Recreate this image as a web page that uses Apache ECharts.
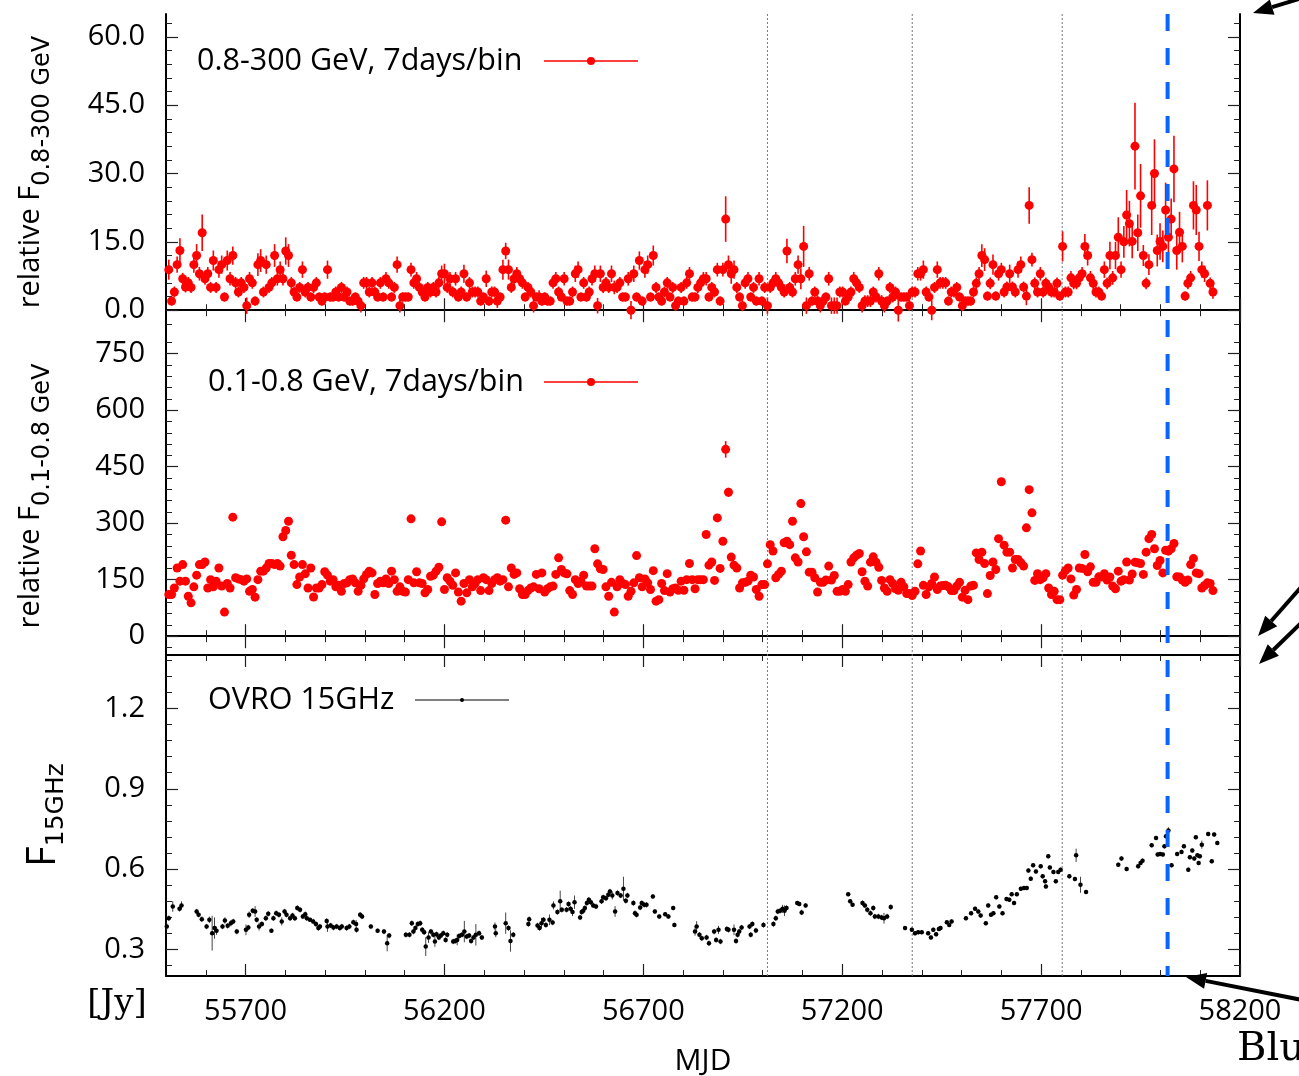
<!DOCTYPE html>
<html>
<head>
<meta charset="utf-8">
<title>Light curves</title>
<script src="https://cdn.jsdelivr.net/npm/echarts@6/dist/echarts.min.js"></script>
<style>
  html, body { margin: 0; padding: 0; background: #fff; }
  #chart { width: 1299px; height: 1076px; }
</style>
</head>
<body>
<div id="chart"></div>
<script>
// ---- weekly gamma-ray binning ----
const BIN_START = 55507;   // centre of first 7-day bin, MJD
const BIN_DAYS = 7;

// 0.8-300 GeV relative flux per weekly bin: [value, 1-sigma]
const hardBand = [
  [8.9,2.2],[2,1],[4,1.2],[10,1.8],[13.1,2.7],[6.9,1.3],[5.1,1.2],[6,1.3],[5,1.2],[10,1.8],
  [12,2.5],[8,1.5],[17,4],[6.9,1.3],[8,1.5],[5,1.2],[10.9,2.2],[5,1.2],[8.9,1.8],[10,2],
  [2.9,1],[10.9,2.2],[6.9,1.5],[12,2],[6,1.3],[4,1.2],[6,1.3],[5,1.2],[1,1.8],[6.9,1.5],
  [6,1.3],[2,1],[10,2.5],[10.9,2.5],[4,1.2],[10,2],[5,1.2],[6,1.3],[12,2.5],[6.9,1.5],
  [8.9,1.8],[6.9,1.5],[13,3],[12,2.5],[6,1.3],[4,1.2],[2.9,1],[5,1.2],[8.9,1.8],[4,1.2],
  [5,1.2],[2.9,1],[5,1.2],[6,1.3],[2.9,1],[2,1],[2.9,1],[8.9,2],[2.9,1],[2.9,1],
  [4,1.2],[2.9,1],[5,1.2],[2.9,1],[4,1.2],[2,1],[2,1],[2.9,1],[2,1],[1,1.5],
  [6,1.3],[6,1.3],[4,1.2],[6,1.3],[4,1.2],[2.9,1],[6,1.3],[2.9,1],[6.9,1.5],[6,1.3],
  [2.9,1],[5,1.2],[10,1.8],[1,1.5],[2.9,1],[2.9,1],[2.9,1],[8.9,1.5],[6,1.3],[6.9,1.5],
  [5,1.2],[4,1.2],[2.9,1],[5,1.2],[4,1.2],[5,1.2],[4,1.2],[6,1.3],
  [8,1.8],[8,2.2],[5,1.2],[6.9,1.5],[4,1.2],[6.9,1.5],[2.9,1],[4,1.2],[8,2],[2.9,1],
  [6,1.3],[4,1.2],[4,1.2],[4,1.2],[2,1],[2.9,1],[6.9,1.8],[2,1],[4,1.2],[4,1.2],
  [2,1.5],[2.9,1],[8.9,2.2],[13,1.8],[8.9,2.2],[5,1.2],[6.9,1.5],[8,1.5],[6.9,1.5],[6,1.3],
  [2.9,1],[5,1.2],[4,1.2],[1,1.5],[2.9,1],[2.9,1.5],[2,1],[2.9,1],[2,1],[2,1],
  [6,1.3],[6.9,1.5],[4,1.2],[2.9,1],[6.9,1.5],[2,1],[2,1],[4,1.2],[8,1.8],[8.9,1.8],
  [2.9,1],[6,1.3],[2.9,1],[4,1.2],[6.9,1.5],[8,1.8],[1,1.7],[8,1.8],[5,1.2],[6,1.3],
  [5,1.2],[8,1.8],[5,1.5],[5,1.2],[6,1.3],[2.9,1],[2.9,1],[6.9,1.5],[0,2],[8,1.8],
  [2.9,1],[10.9,2],[2,1],[8.9,1.8],[10,2],[2.9,1],[12,2.2],[5,1.2],[2.9,1],[2,1],
  [4,1.2],[6,1.3],[2.9,1],[5,1.2],[1,1.2],[2,1],[5,1.2],[2,1],[6,1.3],[8,1.5],
  [2.9,1],[2.9,1],[5,1.2],[6,1.3],[6.9,1.5],
  [6.9,1.5],[2.9,1],[5,1.2],[4,1.2],[8.9,1.5],[2,1],[8.9,1.5],[20,5],[10,2],[8,2.2],
  [8.9,2],[5,1.2],[2.9,1],[1,1.2],[6,1.3],[6.9,1.5],[2.9,1],[5,1.2],[2,1],[6.9,1.5],
  [2,1],[5,1.2],[1,1.8],[5,1.2],[6,1.3],[6.9,1.5],[6,1.3],[5,1.2],[4,1.2],[13,2.7],
  [5,1.2],[4,1.2],[6.9,1.5],[10,2],[6.9,2.3],[14,4.5],[1,1.8],[8,1.5],[2,1],[4,1.2],
  [2,1.2],[1,1.5],[2,1],[2.9,1],[6.9,1.5],[1,1.8],[1,1.8],[1,1.8],[4,1.2],[4,1.2],
  [2,1],[2.9,1],[4,1.2],[6.9,1.5],[6,1.3],[5,1.2],[1,1.5],[2,1.3],[2,1.3],[2,1.3],
  [4,1.2],[2.9,1.2],[8,1.5],[2,1.3],[1,1.5],[2,1],[5,1.2],[2.9,1.2],[4,1.2],[0,2.5],
  [2.9,1],[2.9,1],[2.9,1],[1,1.2],[4,1.2],[4,1.2],[8,1.5],[8,1.5],[8.9,2],[4,1.2],
  [2.9,1],[0,2.2],[5,1.2],[8.9,1.8],[6,1.3],[6,1.3],[6,1.3],[2,1],[4,1.2],[4,1.2],
  [5,1.2],[2.9,1],[1,1.2],[2,1],[2,1],[2,1],[4,1.2],
  [5.9,1.3],[8,1.5],[12,2.5],[11.1,2.5],[3.1,1],[5.9,1.3],[10,2.2],[3.1,1],[8,1.5],[8.9,1.5],
  [4,1.2],[5.1,1.2],[8,2],[5.1,1.2],[4,1.2],[8.9,1.8],[10,1.8],[5.1,1.2],[3.1,2],[23,4],
  [11.1,1.5],[5.9,1.3],[4,1.2],[8,1.5],[4,1.2],[5.9,1.3],[5.1,1.2],[4,1.2],[4,1.2],[5.9,1.3],
  [3.1,1],[14,3.3],[4,1.2],[4,1.2],[7.1,1.5],[5.9,1.3],[5.9,1.3],[7.1,1.5],[8,1.5],[14,2.7],
  [12,2.2],[7.1,1.5],[5.9,1.3],[4,1.2],[4,1.2],[3.1,1],[8.9,1.8],[5.9,1.3],[12,3],[7.1,1.5],
  [12,3],[16,4.4],[8.9,1.8],[15,3.5],[20.9,5.5],[19,5],[15.1,3.7],[36,9.5],[17,4],[25.1,7],
  [12,2.3],[5.9,1.3],[10,2.3],[23,6.5],[30,7.5],[13.1,3.5],[15.1,4],[14,3.5],[22,6],[16,4],
  [20,4.5],[31,7.3],[13.1,4.2],[17.1,4.5],[14,3.5],[3.1,1],[5.9,1.3],[7.1,1.5],[23,5.3],[22,5.5],
  [14,3.2],[8.9,1.8],[8,1.8],[23,5.5],[5.9,1.3],[4,1.5]
];

// 0.1-0.8 GeV relative flux per weekly bin
const softBand = [
  110.6,110.6,128,181,146,190,146,106,88.5,131,
  162,190,190,197,128,150,131,146,181,133,
  64,140,128,316,155,152,150,146,152,119,
  124,103.5,150,172.6,172.6,181,193,193,190,193,
  186,264,280.5,305,215,190,137,157,190,165.5,
  128,181,104,128,128,137,171,162,146,150,
  131,135,119,140,141.6,150,152,141.6,119,135,
  152,164,172.6,168,110.6,140,146,141.6,152,140,
  172.6,150,119,131,119,117,150,311.5,141.6,171,
  141.6,140,115,124,159,162,172.6,183,
  303.6,124,155,146,135,168,117,93,140,115,
  150,131,140,150,121,155,150,121,140,150,
  155,146,150,308,131,181,164,168,126,110.6,
  110.6,121,128,131,164,126,168,117,126,131,
  133,164,208,177,168,165.5,121,110.6,150,140,
  146,162,133,133,133,232,192,179,177,131,
  106,143,64,131,150,140,137,106,119,141.6,
  214,155,131,152,141.6,124,174,93,97,140,
  121,166,117,126,128,122,146,122,150,193,
  150,126,150,150,150,
  270,188.5,197,148,314,180,252,496,382,210,
  188.5,181,128,141.6,143,146,162,157,124,106,
  137,137,192,243,226,155,164,172.6,248,252,
  243,305,208,197,352,264,224,170,170,155,
  117,143,143,149,186,149,161,119,119,124,
  119,137,197,208,215,219.5,171,146,133,196.5,
  210.6,196.5,183,148,128,119,150,140,126,122,
  143,131,113,113,108,119,192,226,135,110.6,
  131,140,157,124,133,134.5,135,131,121,121,
  133,143,103.5,122,97,133,135,
  221,203.5,223,193,113,161,197,177,259,410,
  241.6,223,223,181,203.5,203.5,195,186,287.6,389,
  327.5,148,166,150,155,166,128,110.6,119,97,
  97,162,174,181,152,109,124,181,180,217,
  171,184,143,143,157.5,157,166,149,157,133,
  126,172.6,146,150,197,149,165,196.5,195,193,
  164,223,259,270,232,187.6,201,168,228,225.7,
  232,246,157.5,157,149,143,149,190,206,168,
  166,128,134.5,141.6,140,121
];
// bins whose 0.1-0.8 GeV error bar reaches beyond the marker: [bin index, 1-sigma]
const softBandErr = [[200,22],[201,12],[224,6],[227,12],[228,8]];

// OVRO 15 GHz: [MJD, flux density (Jy), 1-sigma]
const ovro = [
  [55502,0.385,0.012],[55507,0.416,0.01],[55517,0.46,0.02],[55534,0.451,0.01],[55539,0.464,0.015],
  [55577,0.441,0.01],[55582,0.429,0.01],[55590,0.4125,0.01],[55602,0.385,0.01],[55609,0.41,0.012],
  [55616,0.36,0.065],[55622,0.379,0.04],[55627,0.369,0.015],[55642,0.385,0.01],[55648,0.4075,0.012],
  [55655,0.3875,0.01],[55663,0.3975,0.012],[55669,0.404,0.01],[55678,0.366,0.01],[55701,0.3725,0.02],
  [55707,0.381,0.01],[55709,0.429,0.012],[55718,0.444,0.01],[55724,0.441,0.02],[55728,0.41,0.01],
  [55734,0.385,0.015],[55741,0.394,0.01],[55751,0.416,0.01],[55757,0.4325,0.01],[55765,0.369,0.008],
  [55770,0.416,0.01],[55777,0.435,0.01],[55784,0.429,0.01],[55791,0.404,0.015],[55798,0.441,0.01],
  [55803,0.429,0.01],[55812,0.416,0.01],[55818,0.426,0.01],[55824,0.416,0.01],[55830,0.454,0.01],
  [55837,0.4475,0.01],[55844,0.4225,0.01],[55850,0.431,0.01],[55854,0.416,0.01],[55862,0.41,0.008],
  [55870,0.404,0.01],[55877,0.394,0.01],[55883,0.379,0.01],[55887,0.385,0.01],[55904,0.406,0.01],
  [55906,0.385,0.02],[55914,0.389,0.01],[55921,0.381,0.01],[55929,0.385,0.01],[55937,0.379,0.01],
  [55942,0.385,0.01],[55954,0.379,0.01],[55961,0.385,0.01],[55971,0.401,0.01],[55978,0.394,0.015],
  [55979,0.3725,0.01],[55988,0.429,0.01],[55993,0.4225,0.01],[56015,0.385,0.008],[56032,0.369,0.008],
  [56048,0.366,0.01],[56056,0.3225,0.03],[56061,0.351,0.01],[56103,0.354,0.01],[56112,0.354,0.01],
  [56118,0.3975,0.01],[56122,0.366,0.01],[56127,0.379,0.01],[56133,0.394,0.01],[56139,0.3975,0.01],
  [56144,0.3725,0.01],[56149,0.364,0.01],[56153,0.31,0.035],[56160,0.344,0.02],[56166,0.366,0.01],
  [56172,0.354,0.01],[56176,0.329,0.02],[56180,0.356,0.01],[56186,0.344,0.01],[56191,0.351,0.01],
  [56197,0.36,0.01],[56203,0.335,0.01],[56207,0.354,0.01],[56222,0.329,0.01],[56227,0.331,0.01],
  [56232,0.335,0.02],[56237,0.35,0.01],[56244,0.354,0.01],[56250,0.366,0.04],[56256,0.3475,0.01],
  [56262,0.351,0.01],[56267,0.331,0.01],[56273,0.344,0.01],[56279,0.354,0.04],[56287,0.36,0.01],
  [56294,0.344,0.01],[56327,0.385,0.015],[56329,0.36,0.015],[56354,0.3975,0.04],[56361,0.379,0.01],
  [56366,0.331,0.04],[56373,0.354,0.01],
  [56411,0.394,0.01],[56413,0.4125,0.01],[56434,0.389,0.01],[56439,0.379,0.01],[56444,0.3975,0.02],
  [56449,0.41,0.01],[56455,0.391,0.01],[56464,0.41,0.02],[56472,0.4,0.01],[56474,0.464,0.015],
  [56484,0.439,0.01],[56491,0.479,0.04],[56495,0.4475,0.01],[56507,0.4475,0.01],[56512,0.469,0.01],
  [56517,0.451,0.01],[56522,0.439,0.015],[56527,0.476,0.025],[56541,0.419,0.01],[56545,0.439,0.01],
  [56549,0.444,0.01],[56553,0.454,0.01],[56558,0.4725,0.01],[56563,0.485,0.01],[56568,0.476,0.01],
  [56574,0.464,0.01],[56581,0.46,0.01],[56595,0.479,0.01],[56599,0.494,0.01],[56606,0.491,0.01],
  [56612,0.504,0.01],[56616,0.516,0.01],[56622,0.501,0.015],[56629,0.441,0.02],[56635,0.51,0.01],
  [56643,0.501,0.01],[56650,0.526,0.045],[56656,0.481,0.01],[56660,0.501,0.01],[56675,0.4725,0.01],
  [56679,0.435,0.01],[56683,0.429,0.01],[56692,0.456,0.01],[56696,0.4725,0.01],[56702,0.466,0.01],
  [56708,0.466,0.01],[56724,0.4975,0.008],[56729,0.441,0.008],[56740,0.4225,0.008],[56755,0.431,0.008],
  [56763,0.4225,0.008],[56775,0.454,0.008],[56778,0.391,0.008],[56830,0.366,0.015],[56834,0.385,0.02],
  [56841,0.354,0.01],[56847,0.341,0.01],[56859,0.344,0.01],[56865,0.3225,0.01],[56878,0.366,0.01],
  [56883,0.335,0.01],[56889,0.3725,0.015],[56894,0.329,0.01],[56910,0.376,0.01],[56914,0.3725,0.01],
  [56928,0.3725,0.02],[56933,0.331,0.01],[56937,0.354,0.01],[56941,0.366,0.01],[56947,0.381,0.01],
  [56967,0.385,0.01],[56970,0.354,0.01],[56974,0.394,0.01],[56983,0.37,0.01],[57002,0.391,0.01],
  [57027,0.394,0.01],[57033,0.416,0.01],[57038,0.441,0.01],[57044,0.444,0.01],[57050,0.451,0.015],
  [57055,0.444,0.02],[57060,0.454,0.01],[57087,0.4725,0.008],[57092,0.469,0.008],[57098,0.4375,0.01],
  [57108,0.464,0.008],[57215,0.506,0.008],[57220,0.479,0.008],[57226,0.466,0.008],[57251,0.4725,0.01],
  [57257,0.464,0.01],[57263,0.4475,0.01],
  [57271,0.435,0.01],[57278,0.454,0.01],[57282,0.4225,0.01],[57291,0.4225,0.01],[57299,0.419,0.01],
  [57305,0.416,0.02],[57313,0.4225,0.01],[57322,0.4575,0.01],[57358,0.379,0.008],[57375,0.3725,0.008],
  [57383,0.36,0.008],[57391,0.364,0.008],[57400,0.364,0.008],[57416,0.36,0.008],[57423,0.344,0.008],
  [57429,0.3725,0.008],[57436,0.356,0.008],[57443,0.376,0.008],[57447,0.379,0.008],[57463,0.401,0.008],
  [57469,0.391,0.008],[57475,0.404,0.008],[57511,0.416,0.008],[57524,0.435,0.008],[57534,0.451,0.008],
  [57542,0.441,0.008],[57548,0.426,0.008],[57561,0.3975,0.008],[57567,0.464,0.008],[57574,0.429,0.008],
  [57580,0.435,0.008],[57587,0.494,0.008],[57595,0.46,0.008],[57603,0.435,0.008],[57613,0.4875,0.008],
  [57620,0.485,0.008],[57626,0.506,0.008],[57632,0.4725,0.008],[57639,0.506,0.008],[57649,0.526,0.008],
  [57657,0.529,0.008],[57664,0.529,0.008],[57668,0.594,0.008],[57674,0.564,0.008],[57680,0.614,0.008],
  [57687,0.591,0.008],[57699,0.61,0.008],[57704,0.5725,0.008],[57710,0.554,0.008],[57712,0.535,0.008],
  [57718,0.6475,0.008],[57722,0.606,0.008],[57731,0.589,0.008],[57737,0.554,0.008],[57743,0.589,0.008],
  [57749,0.5975,0.008],[57771,0.5725,0.008],[57785,0.5625,0.008],[57788,0.651,0.025],[57799,0.541,0.03],
  [57813,0.514,0.008],[57894,0.616,0.008],[57902,0.639,0.008],[57915,0.6,0.008],[57944,0.61,0.008],
  [57950,0.6225,0.008],[57955,0.631,0.008],[57978,0.689,0.008],[57989,0.716,0.008],[57993,0.654,0.008],
  [57999,0.656,0.008],[58006,0.654,0.008],[58010,0.685,0.008],[58014,0.7225,0.008],[58020,0.744,0.012],
  [58028,0.614,0.008],[58042,0.656,0.008],[58053,0.664,0.008],[58059,0.685,0.008],[58070,0.5975,0.008],
  [58074,0.644,0.008],[58080,0.669,0.008],[58085,0.639,0.008],[58089,0.719,0.008],[58093,0.651,0.008],
  [58096,0.6225,0.008],[58099,0.6475,0.008],[58104,0.691,0.015],[58120,0.731,0.008],[58129,0.629,0.008],
  [58135,0.729,0.008],[58143,0.6975,0.008]
];

// reference epochs (MJD)
const epochLines = [57012, 57376, 57753];
const neutrinoEpoch = 58018;

// axes
const xRange = [55500, 58200];
const xMajor = [55700, 56200, 56700, 57200, 57700, 58200];
const xMinor = [];
for (let v = 55600; v < 58200; v += 100) xMinor.push(v);

function steps(a, b, s, digits) {
  const out = [];
  const n = Math.round((b - a) / s);
  for (let i = 0; i <= n; i++) out.push(+(a + i * s).toFixed(digits));
  return out;
}

const FONT = "'Open Sans', 'DejaVu Sans', sans-serif";
const SUB_FONT = "'DejaVu Sans', 'Open Sans', sans-serif";
const TICK_COLOR = '#222';

const panels = [
  { top: 14,  bottom: 333, min: -5,  max: 65,  major: [0, 15, 30, 45, 60],
    minor: steps(-3, 63, 3, 0), fmt: v => v.toFixed(1) },
  { top: 333, bottom: 655, min: -50, max: 805, major: [0, 150, 300, 450, 600, 750],
    minor: steps(-30, 780, 30, 0), fmt: v => String(v) },
  { top: 655, bottom: 976, min: 0.2, max: 1.4, major: [0.3, 0.6, 0.9, 1.2],
    minor: steps(0.24, 1.38, 0.06, 2), fmt: v => v.toFixed(1) }
];

const GRID_LEFT = 166, GRID_RIGHT = 1240;

const grids = panels.map(p => ({
  left: GRID_LEFT, width: GRID_RIGHT - GRID_LEFT, top: p.top, height: p.bottom - p.top,
  show: false
}));

const xAxes = [], yAxes = [];
panels.forEach((p, gi) => {
  const xb = { type: 'value', gridIndex: gi, min: xRange[0], max: xRange[1], splitLine: { show: false } };
  const lastPanel = gi === panels.length - 1;
  const majorTick = vals => ({ show: true, inside: true, length: 12, customValues: vals,
    lineStyle: { color: TICK_COLOR, width: 1.2 } });
  const minorTick = vals => ({ show: true, inside: true, length: 6, customValues: vals,
    lineStyle: { color: TICK_COLOR, width: 1 } });
  const frame = { show: true, lineStyle: { color: '#000', width: 2 } };

  xAxes.push(
    Object.assign({}, xb, { position: 'bottom', axisLine: frame, axisTick: majorTick(xMajor),
      axisLabel: { show: lastPanel, customValues: xMajor, margin: 21, formatter: v => String(v),
        fontFamily: FONT, fontSize: 29, color: '#000' } }),
    Object.assign({}, xb, { position: 'bottom', axisLine: { show: false }, axisTick: minorTick(xMinor),
      axisLabel: { show: false } }),
    Object.assign({}, xb, { position: 'top', axisLine: frame, axisTick: majorTick(xMajor),
      axisLabel: { show: false } }),
    Object.assign({}, xb, { position: 'top', axisLine: { show: false }, axisTick: minorTick(xMinor),
      axisLabel: { show: false } })
  );

  const yb = { type: 'value', gridIndex: gi, min: p.min, max: p.max, splitLine: { show: false } };
  yAxes.push(
    Object.assign({}, yb, { position: 'left', axisLine: frame, axisTick: majorTick(p.major),
      axisLabel: { show: true, customValues: p.major, formatter: p.fmt, margin: 21,
        fontFamily: FONT, fontSize: 29, color: '#000' } }),
    Object.assign({}, yb, { position: 'left', axisLine: { show: false }, axisTick: minorTick(p.minor),
      axisLabel: { show: false } }),
    Object.assign({}, yb, { position: 'right', axisLine: frame, axisTick: majorTick(p.major),
      axisLabel: { show: false } }),
    Object.assign({}, yb, { position: 'right', axisLine: { show: false }, axisTick: minorTick(p.minor),
      axisLabel: { show: false } })
  );
});

const binMjd = i => BIN_START + BIN_DAYS * i;

function errorBars(gi, data, color, width) {
  return {
    type: 'custom', xAxisIndex: gi * 4, yAxisIndex: gi * 4, data, clip: true, silent: true, z: 2,
    encode: { x: 0, y: [1, 2] },
    renderItem(params, api) {
      const a = api.coord([api.value(0), api.value(1)]);
      const b = api.coord([api.value(0), api.value(2)]);
      return { type: 'line', shape: { x1: a[0], y1: a[1], x2: b[0], y2: b[1] },
               style: { stroke: color, lineWidth: width } };
    }
  };
}

function dots(gi, data, color, size) {
  return {
    type: 'scatter', xAxisIndex: gi * 4, yAxisIndex: gi * 4, data, symbol: 'circle',
    symbolSize: size, itemStyle: { color, opacity: 1 }, silent: true, z: 3, clip: true
  };
}

const RED = '#ff0000';
const series = [
  errorBars(0, hardBand.map((d, i) => [binMjd(i), d[0] - d[1], d[0] + d[1]]), RED, 1.6),
  dots(0, hardBand.map((d, i) => [binMjd(i), d[0]]), RED, 9),
  errorBars(1, softBandErr.map(([i, e]) => [binMjd(i), softBand[i] - e, softBand[i] + e]), RED, 1.6),
  dots(1, softBand.map((v, i) => [binMjd(i), v]), RED, 9),
  errorBars(2, ovro.map(d => [d[0], d[1] - d[2], d[1] + d[2]]), '#444', 1),
  dots(2, ovro.map(d => [d[0], d[1]]), '#000', 4.5)
];

const chart = echarts.init(document.getElementById('chart'), null, { renderer: 'canvas' });
chart.setOption({
  animation: false,
  backgroundColor: '#fff',
  grid: grids,
  xAxis: xAxes,
  yAxis: yAxes,
  series
});

// ---- overlays placed through the x scale ----
const px = v => chart.convertToPixel({ xAxisIndex: 0 }, v);
const TOP = panels[0].top, BOTTOM = panels[2].bottom;
const g = [];

epochLines.forEach(m => g.push({
  type: 'line', z: 1, silent: true,
  shape: { x1: px(m), y1: TOP, x2: px(m), y2: BOTTOM },
  style: { stroke: '#777', lineWidth: 1, lineDash: [2, 2] }
}));
g.push({
  type: 'line', z: 10, silent: true,
  shape: { x1: px(neutrinoEpoch), y1: TOP, x2: px(neutrinoEpoch), y2: BOTTOM },
  style: { stroke: '#0a64ff', lineWidth: 4, lineDash: [17, 17] }
});

// legend keys
function key(textX, y, label, lineX1, lineX2, color, r, lw) {
  g.push({ type: 'text', x: textX, y, z: 20, silent: true,
    style: { text: label, font: `30.5px ${FONT}`, fill: '#000', align: 'left', verticalAlign: 'middle' } });
  g.push({ type: 'line', z: 20, silent: true, shape: { x1: lineX1, y1: y, x2: lineX2, y2: y },
    style: { stroke: color, lineWidth: lw } });
  g.push({ type: 'circle', z: 21, silent: true, shape: { cx: (lineX1 + lineX2) / 2, cy: y, r },
    style: { fill: color } });
}
key(197, 61, '0.8-300 GeV, 7days/bin', 544, 638, RED, 4, 1.6);
key(208, 382, '0.1-0.8 GeV, 7days/bin', 544, 638, RED, 4, 1.6);
key(208, 700, 'OVRO 15GHz', 415, 509, '#000', 2, 1);

// rotated axis titles with a lowered subscript
const measureCtx = document.createElement('canvas').getContext('2d');
function textWidth(str, font) { measureCtx.font = font; return measureCtx.measureText(str).width; }

function yTitle(cy, main, sub, mainFont, subFont, mainX, subX) {
  const wm = textWidth(main, mainFont), ws = textWidth(sub, subFont);
  const start = cy + (wm + ws) / 2;   // text runs upward from here
  g.push({ type: 'text', x: mainX, y: start, rotation: Math.PI / 2, z: 20, silent: true,
    style: { text: main, font: mainFont, fill: '#000', align: 'left', verticalAlign: 'middle' } });
  g.push({ type: 'text', x: subX, y: start - wm, rotation: Math.PI / 2, z: 20, silent: true,
    style: { text: sub, font: subFont, fill: '#000', align: 'left', verticalAlign: 'middle' } });
}
yTitle(172, 'relative F', '0.8-300 GeV', `29px ${FONT}`, `24px ${SUB_FONT}`, 31, 43);
yTitle(496, 'relative F', '0.1-0.8 GeV', `29px ${FONT}`, `24px ${SUB_FONT}`, 31, 43);
yTitle(815, 'F', '15GHz', `40px ${FONT}`, `25px ${SUB_FONT}`, 44, 56);

g.push({ type: 'text', x: (GRID_LEFT + GRID_RIGHT) / 2, y: 1061, z: 20, silent: true,
  style: { text: 'MJD', font: `30px ${FONT}`, fill: '#000', align: 'center', verticalAlign: 'middle' } });
g.push({ type: 'text', x: 117, y: 1004, z: 20, silent: true,
  style: { text: '[Jy]', font: "34px 'DejaVu Serif', 'Liberation Serif', serif", fill: '#000',
           align: 'center', verticalAlign: 'middle' } });

// pointers from the surrounding figure
function arrow(x1, y1, x2, y2) {
  const ang = Math.atan2(y2 - y1, x2 - x1), L = 20, Wd = 8;
  const bx = x2 - L * Math.cos(ang), by = y2 - L * Math.sin(ang);
  g.push({ type: 'line', z: 30, silent: true, shape: { x1, y1, x2: bx, y2: by },
    style: { stroke: '#000', lineWidth: 4 } });
  g.push({ type: 'polygon', z: 30, silent: true, shape: { points: [
    [x2, y2],
    [bx + Wd * Math.sin(ang), by - Wd * Math.cos(ang)],
    [bx - Wd * Math.sin(ang), by + Wd * Math.cos(ang)]
  ] }, style: { fill: '#000' } });
}
arrow(1302, -2, 1253, 13);
arrow(1302, 586, 1258, 636);
arrow(1302, 622, 1259, 664);
arrow(1302, 1000, 1186, 977);
g.push({ type: 'text', x: 1237, y: 1050, z: 30, silent: true,
  style: { text: 'Blue', font: "40px 'DejaVu Serif', 'Liberation Serif', serif", fill: '#000',
           align: 'left', verticalAlign: 'middle' } });

chart.setOption({ graphic: { elements: g } });
</script>
</body>
</html>
